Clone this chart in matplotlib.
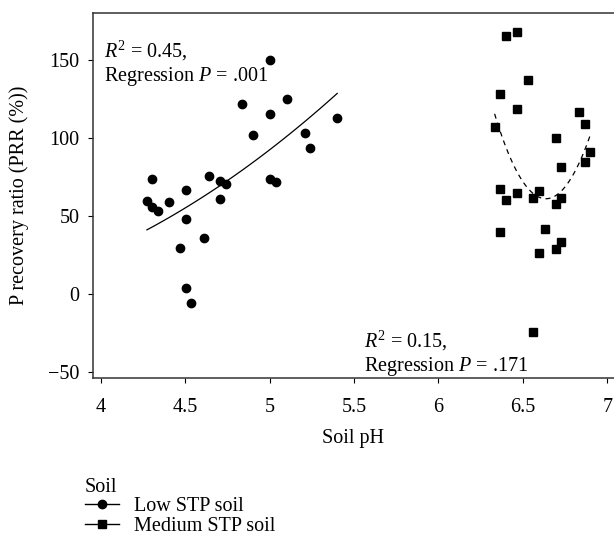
import numpy as np
import matplotlib
matplotlib.use("Agg")
import matplotlib.pyplot as plt
from matplotlib.lines import Line2D

# ---- data ----
low_ph = [4.274, 4.306, 4.306, 4.341, 4.404, 4.505, 4.505, 4.470, 4.505, 4.536,
          4.610, 4.643, 4.708, 4.742, 4.708, 4.838, 4.904, 5.002, 5.002, 5.002,
          5.036, 5.101, 5.208, 5.239, 5.401]
low_prr = [59.8, 73.9, 56.2, 53.6, 59.0, 66.9, 48.3, 29.7, 4.2, -5.8,
           35.9, 75.8, 72.4, 70.5, 60.9, 121.8, 102.3, 150.2, 115.6, 73.9,
           72.2, 125.2, 103.2, 93.6, 113.0]

med_ph = [6.398, 6.465, 6.530, 6.366, 6.465, 6.333, 6.832, 6.866, 6.694, 6.899,
          6.866, 6.725, 6.366, 6.465, 6.398, 6.595, 6.561, 6.725, 6.694, 6.366,
          6.629, 6.725, 6.694, 6.595, 6.561]
med_prr = [165.8, 168.1, 137.2, 128.2, 118.8, 107.2, 116.9, 109.0, 100.2, 91.0,
           85.0, 81.6, 67.3, 64.7, 60.3, 66.4, 61.9, 61.9, 57.7, 39.9,
           41.7, 33.7, 29.2, 26.5, -24.0]

x_ticks = [4, 4.5, 5, 5.5, 6, 6.5, 7]
x_tick_labels = ["4", "4.5", "5", "5.5", "6", "6.5", "7"]
y_ticks = [-50, 0, 50, 100, 150]
y_tick_labels = ["\u221250", "0", "50", "100", "150"]

series_labels = ["Low STP soil", "Medium STP soil"]
legend_title = "Soil"
ann_low = ["$R^2$ = 0.45,", "Regression $P$ = .001"]
ann_med = ["$R^2$ = 0.15,", "Regression $P$ = .171"]

# ---- style ----
plt.rcParams["font.family"] = ["Liberation Serif", "DejaVu Serif"]
plt.rcParams["mathtext.fontset"] = "custom"
plt.rcParams["mathtext.rm"] = "Liberation Serif"
plt.rcParams["mathtext.it"] = "Liberation Serif:italic"
FS = 14.5

fig = plt.figure(figsize=(6.14, 5.38), dpi=100)
ax = fig.add_axes([0.151, 0.2968, 0.849, 0.679])

# scatter
ax.plot(low_ph, low_prr, "o", color="black", markersize=6, linestyle="none")
ax.plot(med_ph, med_prr, "s", color="black", markersize=5.2, linestyle="none")

# quadratic fits
c1 = np.polyfit(low_ph, low_prr, 2)
xx1 = np.linspace(min(low_ph), max(low_ph), 100)
ax.plot(xx1, np.polyval(c1, xx1), color="black", lw=0.9)
c2 = np.polyfit(med_ph, med_prr, 2)
xx2 = np.linspace(min(med_ph), max(med_ph), 100)
ax.plot(xx2, np.polyval(c2, xx2), color="black", lw=0.9, dashes=(4, 3.5))

ax.set_xlim(3.953, 7.04)
ax.set_ylim(-53.8, 180.3)
ax.set_xticks(x_ticks)
ax.set_xticklabels(x_tick_labels, fontsize=FS)
ax.set_yticks(y_ticks)
ax.set_yticklabels(y_tick_labels, fontsize=FS)
ax.tick_params(direction="out", length=3.6, width=0.8, color="black")
ax.tick_params(axis="y", pad=6)
ax.tick_params(axis="x", pad=10.5)

for s in ["top", "left", "bottom"]:
    ax.spines[s].set_color("#333333")
    ax.spines[s].set_linewidth(1.1)
ax.spines["right"].set_visible(False)

ax.set_xlabel("Soil pH", fontsize=FS)
ax.xaxis.label.set_va("center")
ax.xaxis.set_label_coords(0.5, -0.165)
ax.set_ylabel("P recovery ratio (PRR (%))", fontsize=FS)
ax.yaxis.label.set_va("center")
ax.yaxis.set_label_coords(-0.141, 0.5)

ax.text(4.02, 164, "\n".join(ann_low), fontsize=FS, va="top", ha="left",
        linespacing=1.15)
ax.text(5.56, -22, "\n".join(ann_med), fontsize=FS, va="top", ha="left",
        linespacing=1.15)

handles = [Line2D([], [], color="black", lw=1.0, marker="o", markersize=6),
           Line2D([], [], color="black", lw=1.0, marker="s", markersize=5.2)]
leg = fig.legend(handles, series_labels, title=legend_title, loc="upper left",
                 bbox_to_anchor=(0.138, 0.112), frameon=False, fontsize=FS,
                 title_fontsize=FS, borderpad=0, borderaxespad=0,
                 handlelength=1.7, handletextpad=0.75, labelspacing=0.04,
                 alignment="left")
leg._legend_box.sep = 0

fig.savefig("out.png", dpi=100)
